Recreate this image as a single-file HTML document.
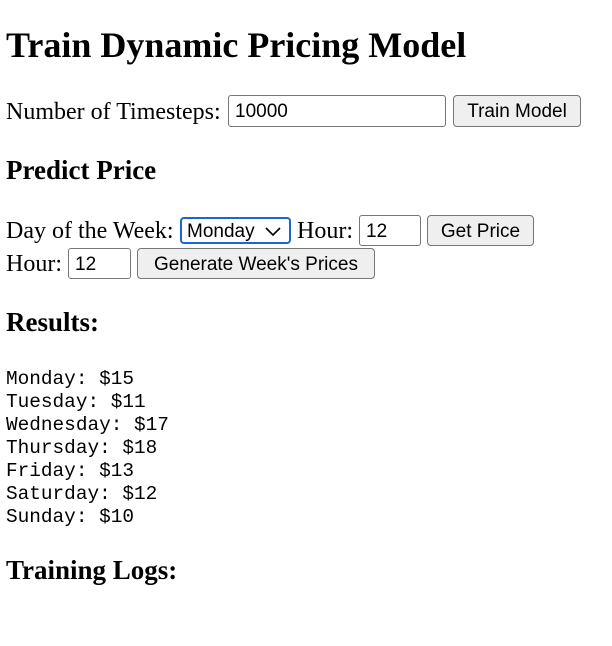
<!DOCTYPE html>
<html><head><meta charset="utf-8"><style>
html,body{margin:0;padding:0;background:#fff;width:612px;height:646px;overflow:hidden;position:relative}
.t{position:absolute;white-space:nowrap;font-family:"Liberation Serif",serif;color:#000;line-height:1}
.b{font-weight:bold}
.ctl{position:absolute;box-sizing:border-box;font-family:"Liberation Sans",sans-serif;font-size:19px;color:#000;display:flex;align-items:center;white-space:nowrap;padding-top:2px}
.inp{border:1px solid #767676;border-radius:3px;background:#fff;padding-left:6px}
.btn{border:1px solid #767676;border-radius:4px;background:#efefef;justify-content:center}
.sel{border:2px solid #1a66d6;border-radius:4px;background:#fff;padding-left:5px}
pre{position:absolute;margin:0;font-family:"Liberation Mono",monospace;font-size:19.4px;line-height:23px;left:6px;top:368px}
</style></head><body>
<div class="t b" style="left:6px;top:27px;font-size:36px">Train Dynamic Pricing Model</div>
<div class="t" style="left:6px;top:100px;font-size:24px">Number of Timesteps:</div>
<div class="ctl inp" style="left:228px;top:95px;width:218px;height:32px">10000</div>
<div class="ctl btn" style="left:453px;top:95px;width:128px;height:32px">Train Model</div>
<div class="t b" style="left:6px;top:157px;font-size:27px">Predict Price</div>
<div class="t" style="left:6px;top:219px;font-size:24px">Day of the Week:</div>
<div class="ctl sel" style="left:180px;top:217px;width:111px;height:27px">Monday<svg style="position:absolute;right:8px;top:8px" width="16" height="10" viewBox="0 0 16 10"><path d="M1 1 L8 8 L15 1" fill="none" stroke="#000" stroke-width="1.6"/></svg></div>
<div class="t" style="left:297px;top:219px;font-size:24px">Hour:</div>
<div class="ctl inp" style="left:359px;top:215px;width:62px;height:31px">12</div>
<div class="ctl btn" style="left:427px;top:215px;width:107px;height:31px">Get Price</div>
<div class="t" style="left:6px;top:252px;font-size:24px">Hour:</div>
<div class="ctl inp" style="left:68px;top:248px;width:63px;height:31px">12</div>
<div class="ctl btn" style="left:137px;top:248px;width:238px;height:31px">Generate Week's Prices</div>
<div class="t b" style="left:6px;top:309px;font-size:27px">Results:</div>
<pre>Monday: $15
Tuesday: $11
Wednesday: $17
Thursday: $18
Friday: $13
Saturday: $12
Sunday: $10</pre>
<div class="t b" style="left:6px;top:557px;font-size:27px">Training Logs:</div>
</body></html>
